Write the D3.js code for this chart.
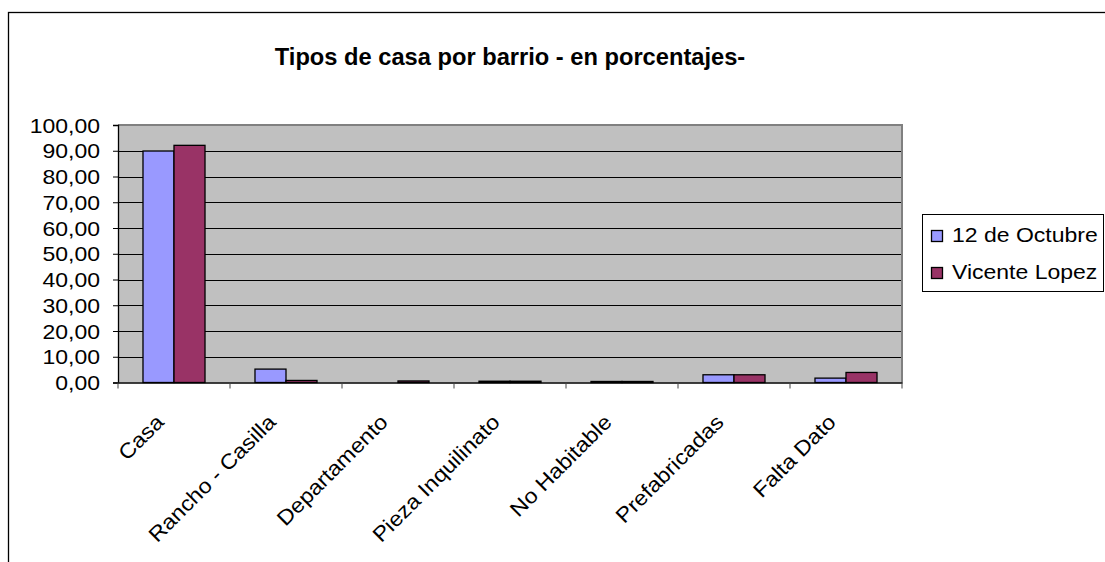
<!DOCTYPE html>
<html>
<head>
<meta charset="utf-8">
<script src="https://cdn.jsdelivr.net/npm/d3@7"></script>
<style>
  html, body { margin: 0; padding: 0; background: #fff; }
  svg { display: block; }
  text { font-family: "Liberation Sans", Arial, sans-serif; fill: #000; }
</style>
</head>
<body>
<svg id="chart" width="1105" height="562"></svg>
<script>
const categories = ["Casa", "Rancho - Casilla", "Departamento", "Pieza Inquilinato", "No Habitable", "Prefabricadas", "Falta Dato"];
const seriesNames = ["12 de Octubre", "Vicente Lopez"];
const octubreValues = [89.9, 5.2, 0.0, 0.5, 0.4, 3.0, 1.7];
const vicenteValues = [92.1, 0.8, 0.6, 0.5, 0.4, 3.0, 3.9];
const yTicks = [0, 10, 20, 30, 40, 50, 60, 70, 80, 90, 100];
const titleText = "Tipos de casa por barrio - en porcentajes-";

const colors = ["#9999FF", "#993366"];
const seriesValues = [octubreValues, vicenteValues];

const svg = d3.select("#chart");
const W = 1105, H = 562;
const plot = { left: 118, right: 902, top: 125, bottom: 382.5 };
const SX = 1.15; // horizontal stretch of the original text

const locale = d3.formatLocale({ decimal: ",", thousands: ".", grouping: [3], currency: ["$", ""] });
const fmt = locale.format(".2f");

// chart area border
svg.append("rect")
  .attr("x", 8.5).attr("y", 12.5)
  .attr("width", W + 20).attr("height", H + 20)
  .attr("fill", "#fff").attr("stroke", "#000").attr("stroke-width", 1.3);

// title
svg.append("text")
  .attr("transform", `translate(510,65) scale(1.03,1)`)
  .attr("text-anchor", "middle")
  .attr("font-size", 23).attr("font-weight", "bold")
  .text(titleText);

const x = d3.scaleBand().domain(categories).range([plot.left, plot.right]).padding(0);
const xs = d3.scaleBand().domain(seriesNames).range([0, x.bandwidth()])
  .paddingInner(0).paddingOuter(0.806);
const y = d3.scaleLinear().domain([0, 100]).range([plot.bottom, plot.top]);

// plot background
svg.append("rect")
  .attr("x", plot.left).attr("y", plot.top)
  .attr("width", plot.right - plot.left).attr("height", plot.bottom - plot.top)
  .attr("fill", "#C0C0C0");

// gridlines
svg.append("g").selectAll("line")
  .data(yTicks.filter(t => t > 0 && t < 100))
  .join("line")
  .attr("x1", plot.left).attr("x2", plot.right)
  .attr("y1", d => Math.round(y(d)) + 0.5).attr("y2", d => Math.round(y(d)) + 0.5)
  .attr("stroke", "#000").attr("stroke-width", 1);

// plot border (top & right)
svg.append("path")
  .attr("d", `M${plot.left},${plot.top}H${plot.right}V${plot.bottom}`)
  .attr("fill", "none").attr("stroke", "#808080").attr("stroke-width", 2);

// bars
const groups = svg.append("g").selectAll("g")
  .data(categories)
  .join("g")
  .attr("transform", d => `translate(${x(d)},0)`);

groups.selectAll("rect")
  .data((d, i) => seriesNames.map((s, j) => ({ s, j, v: seriesValues[j][i] })))
  .join("rect")
  .attr("x", d => xs(d.s))
  .attr("width", xs.bandwidth())
  .attr("y", d => y(d.v))
  .attr("height", d => Math.max(0, y(0) - y(d.v)))
  .attr("fill", d => colors[d.j])
  .attr("stroke", "#000").attr("stroke-width", 1.3);

// y axis
const yAxis = svg.append("g")
  .attr("transform", `translate(${plot.left},0)`)
  .call(d3.axisLeft(y).tickValues(yTicks).tickSize(5).tickPadding(13).tickFormat(() => ""));
yAxis.select(".domain").attr("stroke", "#000").attr("stroke-width", 1.3);
yAxis.selectAll(".tick line").attr("stroke", "#000");
yAxis.selectAll(".tick").append("text")
  .attr("transform", `translate(-18,7) scale(${SX},1)`)
  .attr("text-anchor", "end")
  .attr("font-size", 20)
  .attr("fill", "#000")
  .text(d => fmt(d));

// x axis
const xAxis = svg.append("g")
  .attr("transform", `translate(0,${plot.bottom})`)
  .call(d3.axisBottom(x).tickSize(0).tickFormat(() => ""));
xAxis.select(".domain").attr("stroke", "#000").attr("stroke-width", 1.3);
xAxis.selectAll(".tick line").remove();
const boundaries = categories.map(c => x(c)).concat([x(categories[categories.length - 1]) + x.bandwidth()]);
xAxis.append("g").selectAll("line")
  .data(boundaries)
  .join("line")
  .attr("x1", d => d).attr("x2", d => d)
  .attr("y1", 0).attr("y2", 6)
  .attr("stroke", "#444").attr("stroke-width", 1);

xAxis.selectAll(".tick").append("text")
  .attr("transform", `translate(-9,41) rotate(-45) scale(1.1,1)`)
  .attr("text-anchor", "end")
  .attr("font-size", 21)
  .attr("fill", "#000")
  .text(d => d);

// legend
const legend = svg.append("g");
legend.append("rect")
  .attr("x", 922.5).attr("y", 214.5).attr("width", 181).attr("height", 77)
  .attr("fill", "#fff").attr("stroke", "#000").attr("stroke-width", 1);
const li = legend.selectAll("g.item").data(seriesNames).join("g").attr("class", "item")
  .attr("transform", (d, i) => `translate(931,${230 + i * 37})`);
li.append("rect")
  .attr("x", 0.5).attr("y", 0.5).attr("width", 11).attr("height", 11)
  .attr("fill", (d, i) => colors[i]).attr("stroke", "#000").attr("stroke-width", 1.3);
li.append("text")
  .attr("transform", `translate(21,12) scale(${SX},1)`)
  .attr("font-size", 20)
  .text(d => d);
</script>
</body>
</html>
